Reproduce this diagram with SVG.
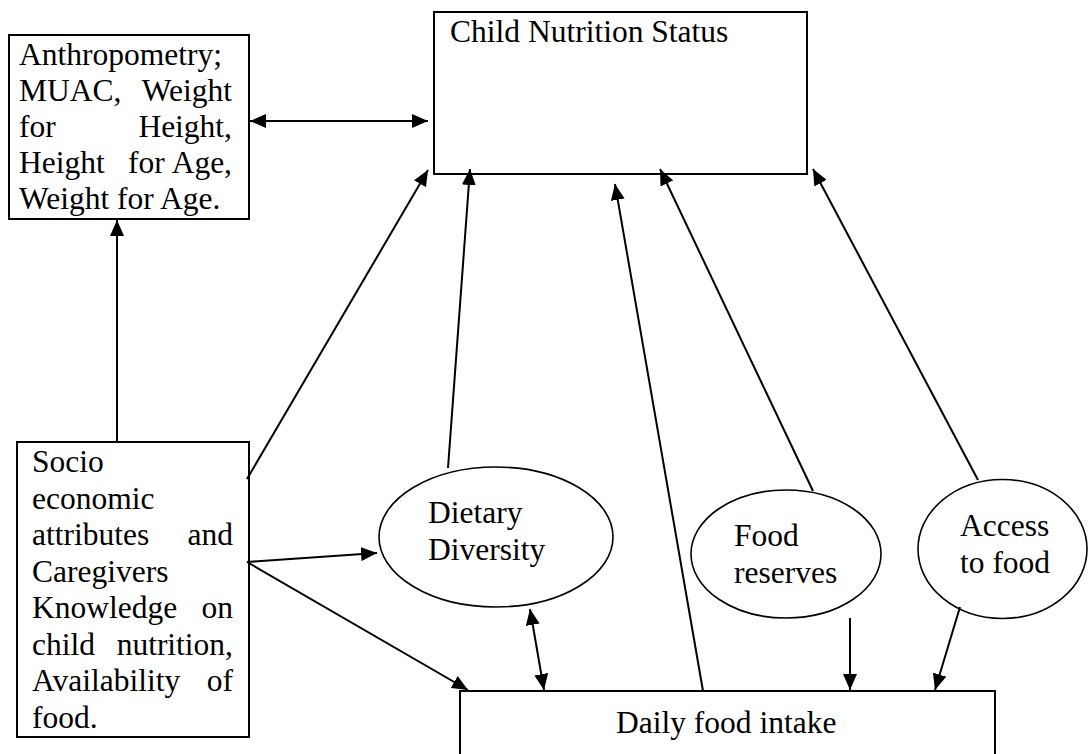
<svg xmlns="http://www.w3.org/2000/svg" width="1089" height="754" viewBox="0 0 1089 754">
<style>
  .box { fill: #ffffff; stroke: #000000; stroke-width: 2; }
  .ell { fill: #ffffff; stroke: #000000; stroke-width: 1.6; }
  text { font-family: 'Liberation Serif', 'DejaVu Serif', 'Times New Roman', serif; font-size: 31.5px; fill: #000000; }
  .e { text-anchor: end; }
  .c { fill: none; stroke: #000000; stroke-width: 2; }
</style>
<defs>
  <marker id="ah" viewBox="0 0 16 14" refX="16" refY="7" markerWidth="16" markerHeight="14" markerUnits="userSpaceOnUse" orient="auto-start-reverse">
    <path d="M0,0 L16,7 L0,14 z" fill="#000000"/>
  </marker>
</defs>
<rect width="1089" height="754" fill="#ffffff"/>

<g id="anthropometry" font-family="Liberation Serif, serif">
  <rect class="box" x="9" y="35" width="240" height="184"/>
  <text x="19" y="65">Anthropometry;</text>
  <text x="19" y="101">MUAC,</text>
  <text class="e" x="232" y="101">Weight</text>
  <text x="19" y="137">for</text>
  <text class="e" x="232" y="137">Height,</text>
  <text x="19" y="173">Height</text>
  <text x="128" y="173">for</text>
  <text class="e" x="232" y="173">Age,</text>
  <text x="19" y="209">Weight for Age.</text>
</g>

<g id="child-nutrition">
  <rect class="box" x="434" y="12" width="373" height="162"/>
  <text x="450" y="42">Child Nutrition Status</text>
</g>

<g id="socio">
  <rect class="box" x="17" y="442" width="232" height="295"/>
  <text x="32" y="472">Socio</text>
  <text x="32" y="508.5">economic</text>
  <text x="32" y="545">attributes</text>
  <text class="e" x="233" y="545">and</text>
  <text x="32" y="581.5">Caregivers</text>
  <text x="32" y="618">Knowledge</text>
  <text class="e" x="233" y="618">on</text>
  <text x="32" y="654.5">child</text>
  <text class="e" x="233" y="654.5">nutrition,</text>
  <text x="32" y="691">Availability</text>
  <text class="e" x="233" y="691">of</text>
  <text x="32" y="727.5">food.</text>
</g>

<g id="dietary-diversity">
  <ellipse class="ell" cx="496" cy="537" rx="117" ry="70"/>
  <text x="428" y="523">Dietary</text>
  <text x="428" y="560">Diversity</text>
</g>

<g id="food-reserves">
  <ellipse class="ell" cx="786" cy="554" rx="95" ry="64"/>
  <text x="734" y="546">Food</text>
  <text x="734" y="583">reserves</text>
</g>

<g id="access-to-food">
  <ellipse class="ell" cx="1002.5" cy="549" rx="84.5" ry="69.5"/>
  <text x="960" y="536">Access</text>
  <text x="960" y="573">to food</text>
</g>

<g id="daily-food-intake">
  <rect class="box" x="460" y="691" width="535" height="80"/>
  <text x="616" y="733">Daily food intake</text>
</g>

<g id="connectors">
  <line class="c" x1="250" y1="121" x2="428" y2="121" marker-start="url(#ah)" marker-end="url(#ah)"/>
  <line class="c" x1="117" y1="442" x2="117" y2="220" marker-end="url(#ah)"/>
  <line class="c" x1="247" y1="479" x2="428" y2="170" marker-end="url(#ah)"/>
  <line class="c" x1="448" y1="468" x2="470" y2="169" marker-end="url(#ah)"/>
  <line class="c" x1="703" y1="691" x2="615" y2="184" marker-end="url(#ah)"/>
  <line class="c" x1="813" y1="491" x2="660" y2="169" marker-end="url(#ah)"/>
  <line class="c" x1="978" y1="480" x2="813" y2="169" marker-end="url(#ah)"/>
  <line class="c" x1="247" y1="562" x2="377" y2="553" marker-end="url(#ah)"/>
  <line class="c" x1="247" y1="562" x2="468" y2="690" marker-end="url(#ah)"/>
  <line class="c" x1="530" y1="609" x2="544" y2="690" marker-start="url(#ah)" marker-end="url(#ah)"/>
  <line class="c" x1="850" y1="618" x2="850" y2="690" marker-end="url(#ah)"/>
  <line class="c" x1="960" y1="607" x2="935" y2="690" marker-end="url(#ah)"/>
</g>
</svg>
